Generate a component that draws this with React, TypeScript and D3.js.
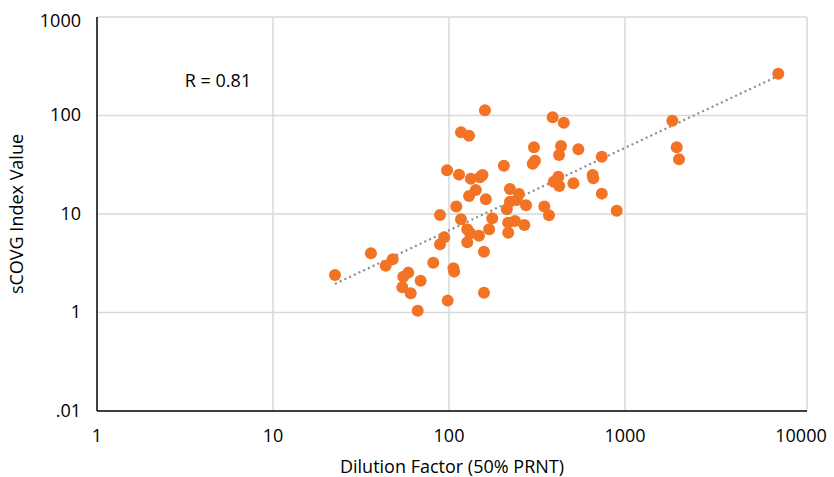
import React, { useEffect } from "react";
import * as d3 from "d3";

// Dilution factor (50% PRNT) vs sCOVG index value
const dilution = [
  22.5, 36.0, 43.7, 47.9, 55.0, 58.7, 54.3, 60.6, 69.0, 66.4, 81.4, 88.9, 88.9, 94.0, 97.5, 98.3,
  106, 107, 110, 114, 117, 117, 130, 127, 132, 127, 148, 133, 150, 155, 130, 142, 162, 160, 169,
  176, 158, 158, 205, 222, 250, 222, 243, 213, 274, 217, 237, 268, 217, 304, 308, 299, 348, 370,
  388, 449, 433, 422, 543, 418, 394, 423, 509, 655, 661, 738, 738, 897, 1857, 1967, 2027, 7430,
];
const indexValue = [
  2.4, 3.99, 2.99, 3.47, 2.31, 2.54, 1.8, 1.57, 2.1, 1.04, 3.2, 9.77, 4.92, 5.8, 27.8, 1.32,
  2.81, 2.6, 11.9, 25.1, 67.5, 8.83, 62.4, 7.0, 6.37, 5.16, 6.03, 22.8, 23.6, 24.9, 15.2, 17.5,
  14.1, 113, 7.0, 9.04, 4.14, 1.59, 30.9, 17.9, 16.0, 13.3, 13.9, 11.2, 12.3, 8.16, 8.49, 7.73,
  6.46, 47.5, 34.8, 32.4, 11.9, 9.7, 95.9, 84.5, 49.0, 39.7, 45.4, 23.9, 21.3, 19.2, 20.5, 24.9,
  23.0, 38.2, 16.1, 10.8, 88.5, 47.5, 35.9, 266,
];

const xTicks = [1, 10, 100, 1000, 10000];
const yTicks = [0.1, 1, 10, 100, 1000];
const yTickLabels = [".01", "1", "10", "100", "1000"];
const rLabel = "R = 0.81";

function App() {
  useEffect(() => {
    document.body.style.margin = "0";
  }, []);

  const width = 834;
  const height = 477;
  const left = 97;
  const top = 17;
  const right = 807;
  const bottom = 411;
  const font = "'Open Sans', 'Noto Sans', sans-serif";
  const orange = "#F37325";

  const x = d3.scaleLog().domain([1, 10000]).range([left, 801]);
  const y = d3.scaleLog().domain([0.1, 1000]).range([bottom, top]);

  const points = dilution.map((d, i) => ({ x: d, y: indexValue[i] }));

  // power trendline: least squares on log10 values
  const lx = points.map(p => Math.log10(p.x));
  const ly = points.map(p => Math.log10(p.y));
  const mx = d3.mean(lx);
  const my = d3.mean(ly);
  const slope =
    d3.sum(lx.map((v, i) => (v - mx) * (ly[i] - my))) / d3.sum(lx.map(v => (v - mx) * (v - mx)));
  const intercept = my - slope * mx;
  const [xMin, xMax] = d3.extent(dilution);
  const trend = [xMin, xMax].map(v => [x(v), y(Math.pow(10, intercept + slope * Math.log10(v)))]);
  const line = d3.line();

  return (
    <svg width={width} height={height} style={{ display: "block", background: "#fff" }} fontFamily={font}>
      {/* gridlines */}
      {yTicks.slice(1).map(t => (
        <line key={"gy" + t} x1={left} x2={right} y1={y(t)} y2={y(t)} stroke="#d9d9d9" strokeWidth={1.5} />
      ))}
      {xTicks.slice(1, -1).map(t => (
        <line key={"gx" + t} x1={x(t)} x2={x(t)} y1={top} y2={bottom} stroke="#d9d9d9" strokeWidth={1.5} />
      ))}
      <line x1={right} x2={right} y1={top} y2={bottom} stroke="#d9d9d9" strokeWidth={1.5} />

      {/* axes */}
      <line x1={left} x2={left} y1={top} y2={bottom} stroke="#000" strokeWidth={1.5} />
      <line x1={left} x2={right} y1={bottom} y2={bottom} stroke="#000" strokeWidth={1.5} />

      {/* trendline */}
      <path d={line(trend)} fill="none" stroke="#8c8c8c" strokeWidth={2.2} strokeDasharray="2 3.2" />

      {/* points */}
      {points.map((p, i) => (
        <circle key={i} cx={x(p.x)} cy={y(p.y)} r={6} fill={orange} />
      ))}

      {/* tick labels */}
      {yTicks.map((t, i) => (
        <text key={"ty" + t} x={81} y={y(t) + (i === yTicks.length - 1 ? 5 : 1)} textAnchor="end"
          dominantBaseline="middle" fontSize={18} fill="#000">
          {yTickLabels[i]}
        </text>
      ))}
      {xTicks.map(t => (
        <text key={"tx" + t} x={x(t)} y={437} textAnchor="middle" dominantBaseline="middle" fontSize={18} fill="#000">
          {t}
        </text>
      ))}

      <text x={218} y={82} textAnchor="middle" dominantBaseline="middle" fontSize={18} fill="#000">
        {rLabel}
      </text>

      {/* axis titles */}
      <text x={452} y={468} textAnchor="middle" dominantBaseline="middle" fontSize={18} fill="#000">
        Dilution Factor (50% PRNT)
      </text>
      <text transform={`translate(18, 214) rotate(-90)`} textAnchor="middle" dominantBaseline="middle"
        fontSize={18} fill="#000">
        sCOVG Index Value
      </text>
    </svg>
  );
}

export default App;
